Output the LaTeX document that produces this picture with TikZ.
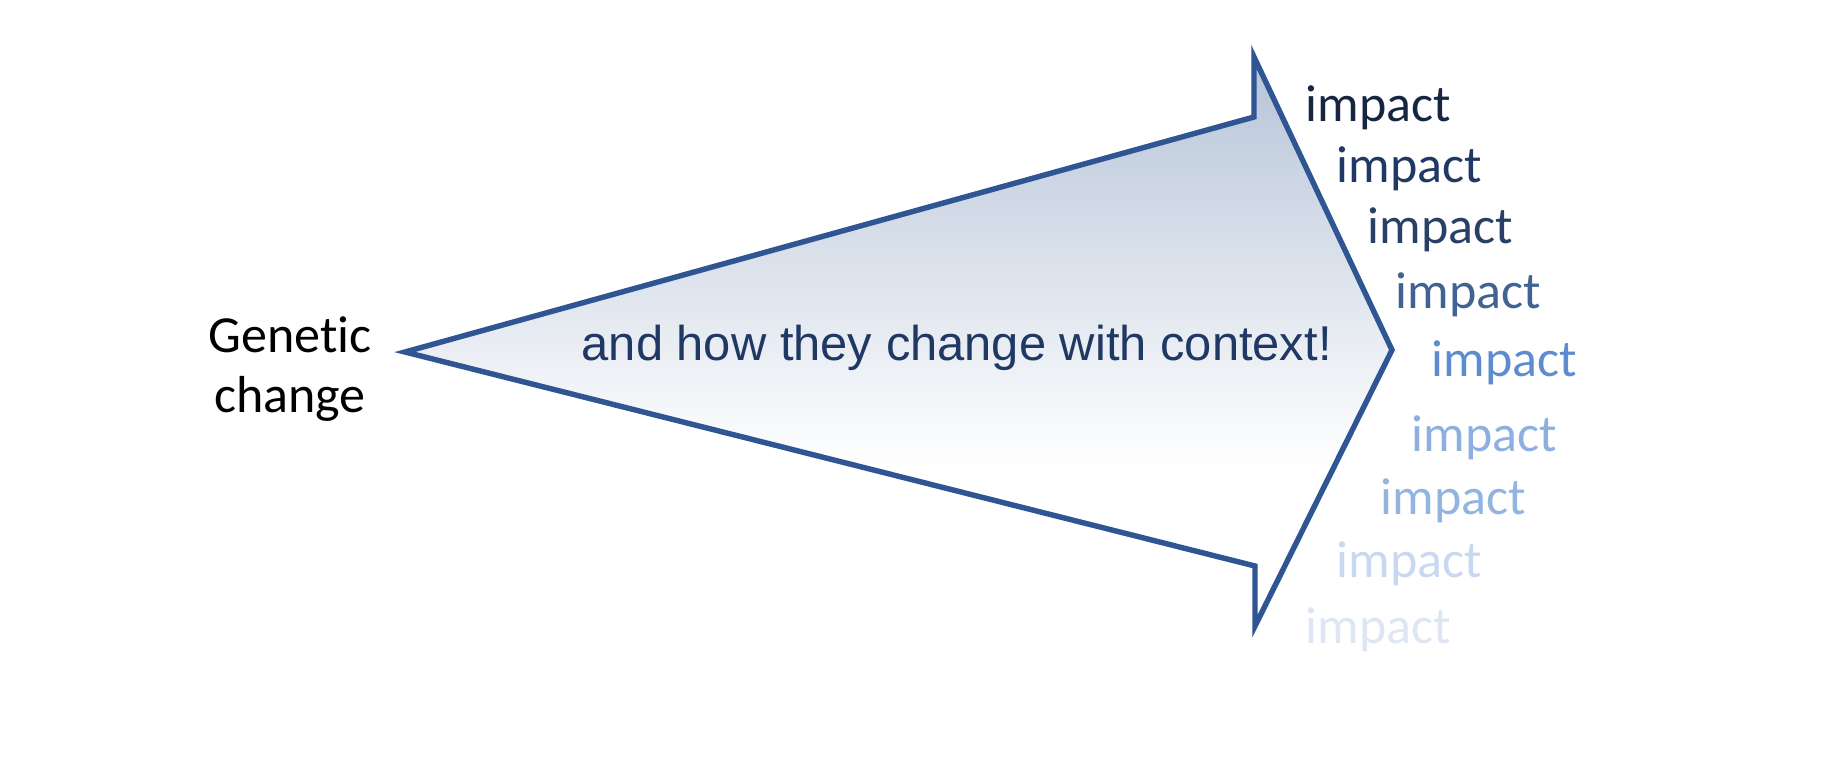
\documentclass[tikz,border=0pt]{standalone}
\usepackage{fontspec}
\setmainfont[Ligatures={NoCommon}]{Carlito}
\newfontfamily\arialfont{Liberation Sans}
\definecolor{arrowline}{RGB}{47,85,147}
\definecolor{shadetop}{RGB}{182,196,216}
\definecolor{midtext}{RGB}{31,56,100}
\definecolor{impA}{RGB}{22,37,64}
\definecolor{impB}{RGB}{31,56,100}
\definecolor{impC}{RGB}{40,64,102}
\definecolor{impD}{RGB}{64,99,147}
\definecolor{impE}{RGB}{93,140,207}
\definecolor{impF}{RGB}{142,176,224}
\definecolor{impG}{RGB}{146,180,225}
\definecolor{impH}{RGB}{200,216,240}
\definecolor{impI}{RGB}{222,230,243}
\pgfdeclareverticalshading{arrowshade}{100bp}{color(0bp)=(white); color(25bp)=(white); color(39bp)=(white); color(75bp)=(shadetop); color(100bp)=(shadetop)}
\tikzset{
  impactlabel/.style={anchor=base west, inner sep=0pt, font=\fontsize{14.8}{16}\selectfont},
}
\begin{document}
\begin{tikzpicture}[x=0.01cm,y=-0.01cm]
\useasboundingbox (0,0) rectangle (1840,760);
% arrow
\coordinate (tail) at (405,352);
\coordinate (ti) at (1254,117);
\coordinate (to) at (1254,57);
\coordinate (tip) at (1392,350);
\coordinate (bo) at (1255,626);
\coordinate (bi) at (1255,566);
\shade[shading=arrowshade]
  (tail) -- (ti) -- (to) -- (tip) -- (bo) -- (bi) -- cycle;
\draw[arrowline, line width=1.55pt, line join=miter]
  (tail) -- (ti) -- (to) -- (tip) -- (bo) -- (bi) -- cycle;
% texts
\node[anchor=base, align=center, inner sep=0pt, font=\fontsize{14.8}{16.8}\selectfont] (gen) at (290,412) {Genetic\\change};
\node[anchor=base west, inner sep=0pt, text=midtext, font=\arialfont\fontsize{13.9}{16}\selectfont] (ctx) at (581,360) {and how they change with context!};
\node[impactlabel, text=impA] (i1) at (1305,121) {impact};
\node[impactlabel, text=impB] (i2) at (1336,182) {impact};
\node[impactlabel, text=impC] (i3) at (1367,243) {impact};
\node[impactlabel, text=impD] (i4) at (1395,308) {impact};
\node[impactlabel, text=impE] (i5) at (1431,376) {impact};
\node[impactlabel, text=impF] (i6) at (1411,451) {impact};
\node[impactlabel, text=impG] (i7) at (1380,514) {impact};
\node[impactlabel, text=impH] (i8) at (1336,577) {impact};
\node[impactlabel, text=impI] (i9) at (1305,643) {impact};
\end{tikzpicture}
\end{document}
